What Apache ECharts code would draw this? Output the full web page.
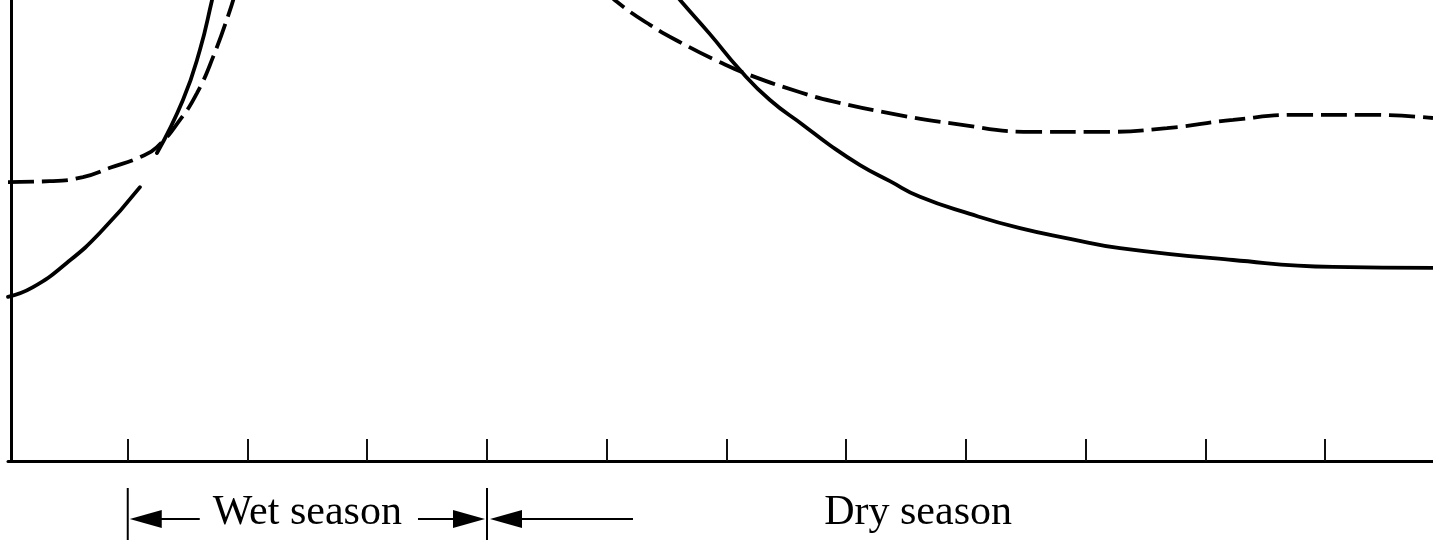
<!DOCTYPE html>
<html>
<head>
<meta charset="utf-8">
<script src="https://cdn.jsdelivr.net/npm/echarts@6/dist/echarts.min.js"></script>
<style>
html,body{margin:0;padding:0;background:#fff;}
#chart{width:1433px;height:540px;}
</style>
</head>
<body>
<div id="chart"></div>
<script>
// x = month from start of record, y = relative level (0 at axis, 100 at top of frame)
const solidCurve = [
  [0, 35.6], [0.209, 37.7], [0.493, 43.0], [0.768, 49.5], [1.102, 59.4],
  null,
  [1.244, 66.8], [1.461, 78.3], [1.603, 89.2], [1.704, 100], [1.762, 106.5],
  null,
  [5.403, 106.5], [5.612, 100], [5.862, 92.6], [6.113, 84.8], [6.363, 78.3],
  [6.639, 72.9], [6.864, 68.5], [7.115, 64.2], [7.365, 60.7], [7.616, 57.3],
  [8.033, 53.6], [8.451, 50.5], [8.869, 48.2], [9.286, 46.2], [10.23, 43.6],
  [11.065, 42.1], [11.9, 41.9]
];
const dashedCurve = [
  [0, 60.5], [0.351, 60.7], [0.626, 61.6], [0.852, 63.6], [1.102, 65.9],
  [1.244, 68.1], [1.436, 74.0], [1.578, 79.8], [1.712, 87.6], [1.854, 97.8], [1.904, 102.2],
  null,
  [4.985, 102.2], [5.085, 99.6], [5.361, 94.6], [5.637, 90.5], [5.921, 86.8],
  [6.196, 83.7], [6.614, 80.0], [6.889, 78.0], [7.39, 75.3], [7.866, 73.3],
  [8.559, 71.4], [9.119, 71.4], [9.678, 72.2], [10.23, 74.0], [10.789, 75.1],
  [11.349, 75.1], [11.9, 74.4]
];
const tickMonths = [1, 2, 3, 4, 5, 6, 7, 8, 9, 10, 11];
const wetSeason = [1, 4];          // months bounding the wet season
const drySeasonStart = 4;
const dryLabelMonth = 7.6;
const seasonLabels = ['Wet season', 'Dry season'];

const chart = echarts.init(document.getElementById('chart'), null, {renderer: 'canvas'});
chart.setOption({
  animation: false,
  backgroundColor: '#ffffff',
  grid: {left: 8, right: 0, top: 0, bottom: 79, containLabel: false},
  xAxis: {
    type: 'value', min: 0, max: 11.9, interval: 1,
    axisLine: {show: true, onZero: false, lineStyle: {color: '#000', width: 3}},
    axisTick: {show: true, inside: true, length: 22, customValues: tickMonths,
      lineStyle: {color: '#111', width: 2}},
    axisLabel: {show: false},
    splitLine: {show: false}
  },
  yAxis: {
    type: 'value', min: 0, max: 100, offset: -3,
    axisLine: {show: true, lineStyle: {color: '#000', width: 3}},
    axisTick: {show: false},
    axisLabel: {show: false},
    splitLine: {show: false}
  },
  series: [
    {
      name: 'Solid', type: 'line', data: solidCurve, showSymbol: false, symbol: 'none',
      connectNulls: false, smooth: 0.5, clip: true,
      lineStyle: {color: '#000', width: 3.8, type: 'solid', cap: 'round'}
    },
    {
      name: 'Dashed', type: 'line', data: dashedCurve, showSymbol: false, symbol: 'none',
      connectNulls: false, smooth: 0.5, clip: true,
      lineStyle: {color: '#000', width: 3.8, type: [26, 8]}
    }
  ]
});

// Season annotation below the axis, placed from the axis scale
const px = m => chart.convertToPixel({xAxisIndex: 0}, m);
const axisY = chart.convertToPixel({yAxisIndex: 0}, 0);
const H = chart.getHeight();
const a = px(wetSeason[0]);
const b = px(wetSeason[1]);
const c = px(drySeasonStart);
const ay = axisY + 58;
const stroke = {stroke: '#000', lineWidth: 2};
const fontSpec = '42px "Liberation Serif", "DejaVu Serif", serif';
const head = (tip, dir) => ({
  type: 'polygon', silent: true,
  shape: {points: [[tip, ay], [tip + dir * 32, ay - 9], [tip + dir * 32, ay + 9]]},
  style: {fill: '#000'}
});
chart.setOption({
  graphic: [
    {type: 'line', silent: true, shape: {x1: a, y1: axisY + 27, x2: a, y2: H}, style: stroke},
    {type: 'line', silent: true, shape: {x1: b, y1: axisY + 27, x2: b, y2: H}, style: stroke},
    head(a + 2, 1),
    {type: 'line', silent: true, shape: {x1: a + 33, y1: ay, x2: a + 72, y2: ay}, style: stroke},
    {type: 'text', silent: true, x: (a + b) / 2, y: axisY + 52,
      style: {text: seasonLabels[0], font: fontSpec, fill: '#000', align: 'center', verticalAlign: 'middle'}},
    {type: 'line', silent: true, shape: {x1: b - 69, y1: ay, x2: b - 33, y2: ay}, style: stroke},
    head(b - 2, -1),
    head(c + 3, 1),
    {type: 'line', silent: true, shape: {x1: c + 34, y1: ay, x2: c + 146, y2: ay}, style: stroke},
    {type: 'text', silent: true, x: px(dryLabelMonth), y: axisY + 52,
      style: {text: seasonLabels[1], font: fontSpec, fill: '#000', align: 'center', verticalAlign: 'middle'}}
  ]
});
</script>
</body>
</html>
